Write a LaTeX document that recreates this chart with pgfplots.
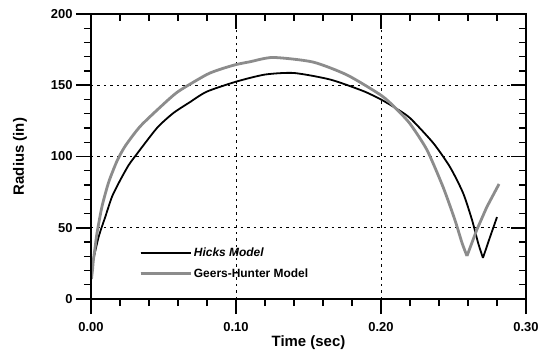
\documentclass[border=0pt]{standalone}
\usepackage{fontspec}
\setmainfont{Liberation Sans}
\usepackage{pgfplots}
\pgfplotsset{compat=1.18}
\definecolor{ghgray}{RGB}{140,140,140}
\begin{document}
\begin{tikzpicture}
\pgfplotsset{
  common/.style={
    scale only axis, width=435bp, height=285bp,
    xmin=0, xmax=0.30, ymin=0, ymax=200,
    xtick={0,0.1,0.2,0.3}, ytick={0,50,100,150,200},
    minor xtick={0.02,0.04,0.06,0.08,0.12,0.14,0.16,0.18,0.22,0.24,0.26,0.28},
    minor ytick={10,20,30,40,60,70,80,90,110,120,130,140,160,170,180,190},
    major tick length=15bp, minor tick length=7bp,
    every tick/.style={black, line width=1.6bp},
    every minor tick/.style={black, line width=1.4bp},
    axis line style={line width=1.8bp},
  }
}
\begin{axis}[common, name=ax,
  tick align=outside, xtick pos=left, ytick pos=left,
  grid=major,
  major grid style={black, line width=0.6bp, dash pattern=on 2.5bp off 4bp},
  /pgf/number format/assume math mode=true,
  xticklabel style={/pgf/number format/fixed, /pgf/number format/precision=2, /pgf/number format/fixed zerofill, yshift=-5bp},
  ticklabel style={font=\fontsize{13}{15}\selectfont\bfseries},
  xlabel={Time (sec)}, ylabel={Radius (in)},
  label style={font=\fontsize{15}{17}\selectfont\bfseries},
  xlabel style={at={(axis description cs:0.5,-0.1544)}, anchor=center},
  ylabel style={at={(axis description cs:-0.1632,0.5)}, anchor=center},
  legend style={at={(axis cs:0.031,38.5)}, anchor=north west, draw=none, fill=none,
    font=\fontsize{12}{14}\selectfont\bfseries, row sep=6bp, cells={anchor=west}},
  legend image code/.code={\path (0bp,0bp) -- (50bp,0bp); \draw[#1] (0bp,0bp) -- (40bp,0bp);},
]
\addplot[black, line width=1.8bp, smooth, tension=0.4] coordinates {
(0.0008,24) (0.0053,43.7) (0.0099,57.8) (0.0145,71.8) (0.0202,83.5) (0.026,94)
(0.0306,100.4) (0.0455,120) (0.0568,130.5) (0.068,138) (0.0798,145.5) (0.1,152.5)
(0.12,157.5) (0.14,158.6) (0.165,154) (0.1876,146) (0.2,140) (0.21,134) (0.22,127)
(0.236,109.5) (0.2476,92.6) (0.2566,74.4) (0.2628,55.4) (0.267,39.3) (0.2703,28.8)
};
\addlegendentry{\itshape Hicks Model}
\addplot[ghgray, line width=2.8bp, smooth, tension=0.4] coordinates {
(0.0003,14) (0.001,20) (0.0016,27) (0.0028,36) (0.0041,46) (0.0076,65) (0.0122,82)
(0.018,97) (0.0237,107.5) (0.0338,121) (0.0476,134.5) (0.06,145.5) (0.0798,157.5)
(0.09,161.5) (0.1,164.5) (0.1097,166.5) (0.1255,169.5) (0.153,166.3) (0.1766,157.2) (0.2,143)
(0.21,134) (0.22,123) (0.2317,104.6) (0.2428,78.6) (0.251,55.4) (0.2559,39.3) (0.2593,30.2)
};
\addlegendentry{Geers-Hunter Model}
\addplot[ghgray, line width=2.8bp, forget plot] coordinates {
(0.2593,30.2) (0.266,48.4) (0.273,64.6) (0.2814,80.7)
};
\addplot[black, line width=1.8bp, forget plot] coordinates {
(0.2703,28.8) (0.2752,43.5) (0.2800,57.5)
};
\end{axis}
\begin{axis}[common, tick align=inside, xtick pos=right, ytick pos=right,
  xticklabels={}, yticklabels={}]
\end{axis}
\pgfresetboundingbox
\path ([shift={(-91bp,-55bp)}]ax.south west) rectangle ([shift={(21bp,14bp)}]ax.north east);
\end{tikzpicture}
\end{document}
